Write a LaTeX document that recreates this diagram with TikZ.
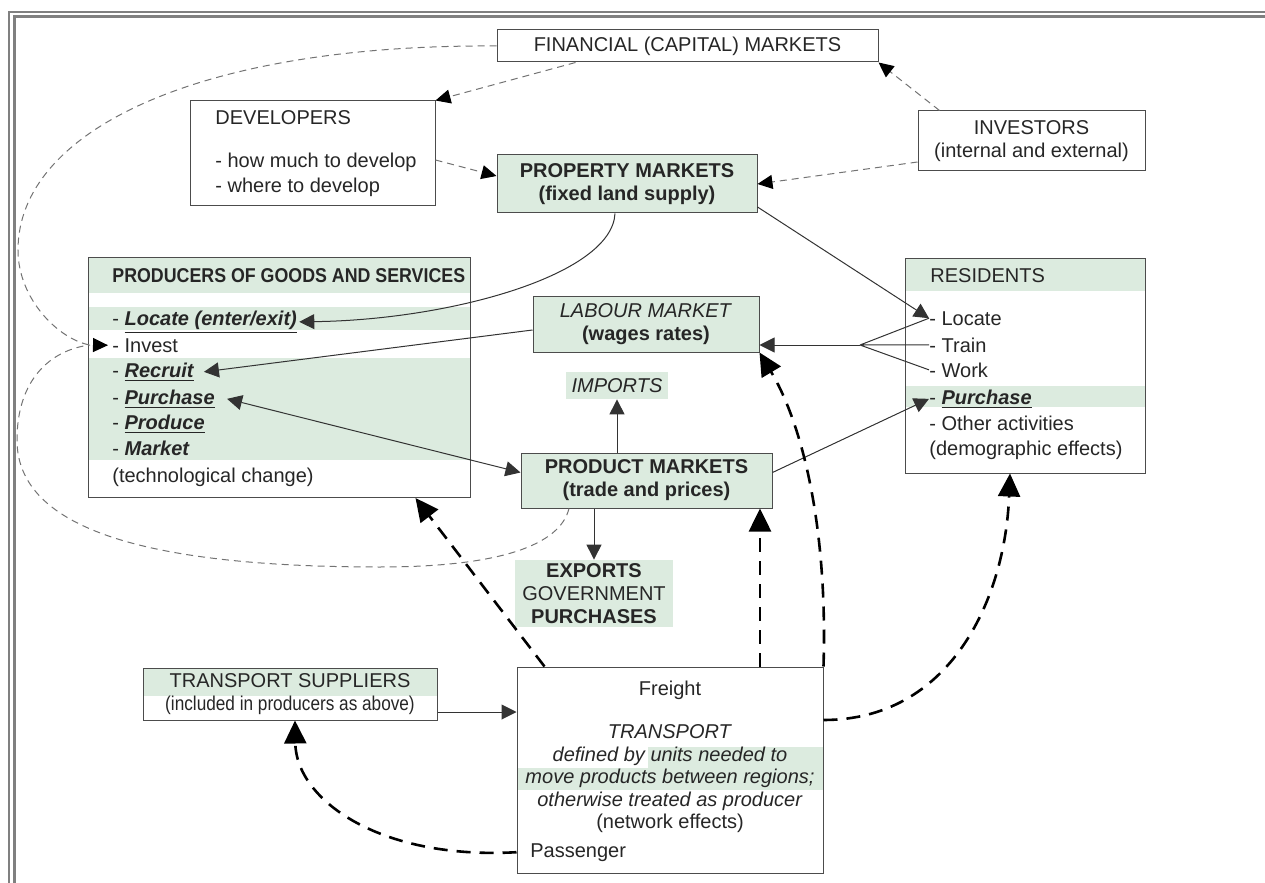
\documentclass[tikz,border=0pt]{standalone}
\usepackage{fontspec}
\setmainfont{Liberation Sans}
\usepackage{graphicx}
\usetikzlibrary{arrows.meta}
\definecolor{mint}{RGB}{220,235,223}
\definecolor{framegray}{RGB}{128,128,128}
\tikzset{
  every node/.style={font=\fontsize{10}{11.5}\selectfont, text=black!85},
  >={Triangle[length=7.5pt,width=7.5pt]},
  box/.style={draw=black!70, line width=0.5pt, inner sep=0pt},
  row/.style={anchor=base west, inner sep=0pt},
  wire/.style={draw=black!80, line width=0.5pt},
  link/.style={wire, ->},
  gdash/.style={draw=black!55, line width=0.5pt, dash pattern=on 3.5pt off 2.5pt},
  gtip/.style={-{Triangle[length=7.5pt,width=7pt,color=black]}},
  heavy/.style={draw=black, line width=1.3pt, dash pattern=on 7pt off 4.5pt,
    -{Triangle[length=11.5pt,width=11pt]}}
}
\begin{document}
\begin{tikzpicture}[x=0.5pt,y=-0.5pt]
    \useasboundingbox (0,0) rectangle (1265,883);
    % frame
    \draw [framegray, line width=0.7pt] (9,883) |- (1265,12);
    \draw [framegray, line width=1.1pt] (14.5,883) |- (1265,16.5);

    % green bands
    \fill [mint] (88,258) rectangle (470,293);
    \fill [mint] (88,307) rectangle (470,330);
    \fill [mint] (88,358) rectangle (470,460);
    \fill [mint] (905,258) rectangle (1145,291);
    \fill [mint] (905,386) rectangle (1145,407);
    \fill [mint] (143,668) rectangle (437,696);
    \fill [mint] (648,747) rectangle (823,768);
    \fill [mint] (517,768) rectangle (823,790);

    % boxes
    \node [box, minimum width=190.5pt, minimum height=16pt] (fin) at (687.5,46) {FINANCIAL (CAPITAL) MARKETS};
    \node [box, minimum width=122.5pt, minimum height=52.5pt] (dev) at (312.5,153.5) {};
    \node [row] (devtitle) at (215,125) {DEVELOPERS};
    \node [row] (devhow) at (215,168) {- how much to develop};
    \node [row] (devwhere) at (215,192) {- where to develop};
    \node [box, fill=mint, minimum width=130pt, minimum height=29pt, align=center] (prop) at (627,184) {\textbf{PROPERTY MARKETS}\\\textbf{(fixed land supply)}};
    \node [box, minimum width=113.5pt, minimum height=30pt, align=center] (inv) at (1031.5,141) {INVESTORS\\(internal and external)};

    \node [box, minimum width=191pt, minimum height=120pt] (prod) at (279,377.5) {};
    \node [row] (ptitle) at (112,283) {\scalebox{0.89}[1]{\textbf{PRODUCERS OF GOODS AND SERVICES}}};
    \node [row] (plocate) at (112,325) {- \textbf{\textit{\underline{Locate (enter/exit)}}}};
    \node [row] (pinvest) at (112,352) {- Invest};
    \node [row] (precruit) at (112,377) {- \textbf{\textit{\underline{Recruit}}}};
    \node [row] (ppurchase) at (112,404) {- \textbf{\textit{\underline{Purchase}}}};
    \node [row] (pproduce) at (112,429) {- \textbf{\textit{\underline{Produce}}}};
    \node [row] (pmarket) at (112,455) {- \textbf{\textit{Market}}};
    \node [row] (ptech) at (112,482) {(technological change)};

    \node [box, minimum width=120pt, minimum height=107.5pt] (res) at (1025,365.5) {};
    \node [row] (rtitle) at (930,282) {RESIDENTS};
    \node [row] (rlocate) at (929,325) {- Locate};
    \node [row] (rtrain) at (929,352) {- Train};
    \node [row] (rwork) at (929,377) {- Work};
    \node [row] (rpurchase) at (929,404) {- \textbf{\textit{\underline{Purchase}}}};
    \node [row] (rother) at (929,430) {- Other activities};
    \node [row] (rdemo) at (929,455) {(demographic effects)};

    \node [box, fill=mint, minimum width=113pt, minimum height=28pt, align=center] (lab) at (646,324) {\textit{LABOUR MARKET}\\\textbf{(wages rates)}};
    \node [fill=mint, minimum width=51pt, minimum height=13.5pt, inner sep=0pt] (imp) at (617,385.5) {\textit{IMPORTS}};
    \node [box, fill=mint, minimum width=125.5pt, minimum height=27.5pt, align=center] (pm) at (646.5,480.5) {\textbf{PRODUCT MARKETS}\\\textbf{(trade and prices)}};
    \node [fill=mint, minimum width=79pt, minimum height=33.5pt, inner sep=0pt, align=center] (exp) at (594,593.5) {\textbf{EXPORTS}\\GOVERNMENT\\\textbf{PURCHASES}};

    \node [box, minimum width=147pt, minimum height=26pt, align=center] (ts) at (290,694) {TRANSPORT SUPPLIERS\\\scalebox{0.86}[1]{(included in producers as above)}};
    \node [box, minimum width=153pt, minimum height=103pt] (tr) at (670,770) {};
    \node (freight) at (670,690) {Freight};
    \node [align=center, font=\fontsize{10}{11.25}\selectfont] (trtxt) at (670,779) {\textit{TRANSPORT}\\\textit{defined by units needed to}\\\textit{move products between regions;}\\\textit{otherwise treated as producer}\\(network effects)};
    \node [row] (pass) at (530,857) {Passenger};

    % capital and development links
    \draw [gdash, gtip] ([xshift=-56pt]fin.south) -- (dev.north east);
    \draw [gdash, gtip] ([yshift=-3.25pt]dev.east) -- ([yshift=4pt]prop.west);
    \draw [gdash, gtip] ([xshift=11pt]inv.north west) -- (fin.south east);
    \draw [gdash, gtip] ([yshift=-10.5pt]inv.west) -- (prop.east);
    \coordinate (jn) at (90,345);
    \draw [gdash, gtip] (fin.west) .. controls (200,44) and (18,130) .. (18,250) .. controls (18,300) and (60,340) .. (jn) -- ([xshift=-2pt]pinvest.west);
    \draw [gdash] ([xshift=-38.75pt]pm.south) .. controls (560,545) and (500,567) .. (380,567) .. controls (150,567) and (17,530) .. (17,440) .. controls (17,380) and (50,350) .. (jn);

    % market links
    \draw [link] ([yshift=-11.5pt]prop.east) -- (rlocate.west);
    \draw [link] ([xshift=-6pt]prop.south) .. controls (612,275) and (450,320) .. ([xshift=1pt]plocate.east);
    \draw [link] ([yshift=-3pt]lab.west) -- ([xshift=5pt]precruit.east);
    \draw [wire, <->] ([xshift=6pt]ppurchase.east) -- ([yshift=4pt]pm.west);
    \draw [link] (pm.north -| imp) -- (imp.south);
    \draw [link] (pm.south -| exp) -- (exp.north);
    \draw [link] ([yshift=4pt]pm.east) -- (rpurchase.west);
    \coordinate (fan) at (860,345);
    \draw [wire] (rlocate.west) -- (fan) (rtrain.west) -- (fan) (rwork.west) -- (fan);
    \draw [link] (fan) -- ([yshift=-10.5pt]lab.east);
    \draw [link] ([yshift=-9pt]ts.east) -- ([yshift=-9pt]ts.east -| tr.west);

    % transport effects
    \coordinate (tb) at ([xshift=45pt]tr.north);
    \draw [heavy] ([xshift=14pt]tr.north west) -- ([xshift=-27.5pt]prod.south east);
    \draw [heavy] (tb) -- (tb |- pm.south);
    \draw [heavy] (tr.north east) .. controls (828,520) and (800,420) .. (lab.south east);
    \draw [heavy] ([yshift=25pt]tr.east) .. controls (950,720) and (1005,600) .. ([xshift=-7.5pt]res.south);
    \draw [heavy] (tr.west |- pass.west) .. controls (380,860) and (296,800) .. ([xshift=2.5pt]ts.south);
\end{tikzpicture}
\end{document}
